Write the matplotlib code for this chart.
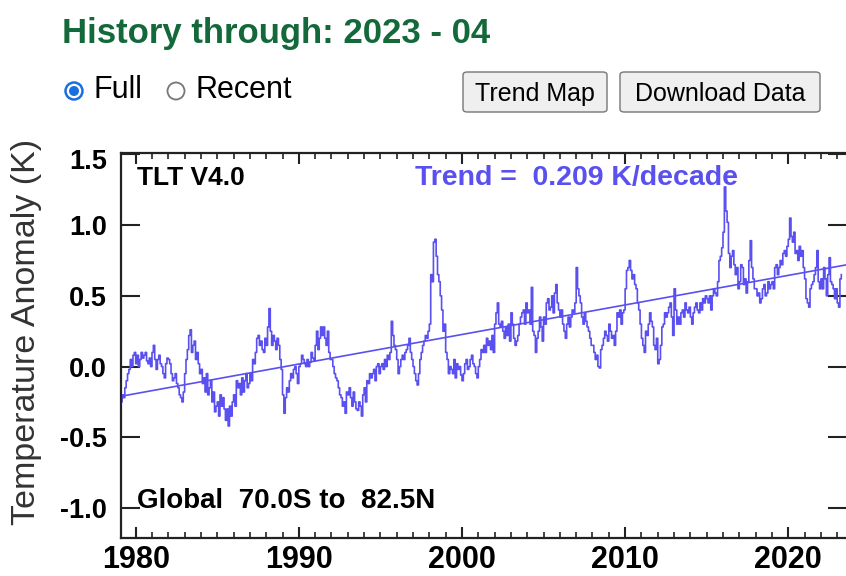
import matplotlib.pyplot as plt
import numpy as np
from matplotlib.patches import FancyBboxPatch, Ellipse
from matplotlib.transforms import ScaledTranslation

# monthly TLT anomalies (K), Jan 1979 .. Apr 2023
Y1979 = [-0.18, -0.25, -0.20, -0.22, -0.15, -0.10, -0.05, -0.02, 0.05, 0.00, 0.08, 0.10]
Y1980 = [0.02, 0.08, 0.00, 0.05, 0.10, 0.06, 0.08, 0.10, 0.04, 0.02, 0.06, 0.00]
Y1981 = [0.10, 0.15, 0.05, -0.02, 0.05, 0.08, 0.02, 0.00, -0.05, -0.08, 0.02, 0.06]
Y1982 = [0.05, 0.02, -0.05, -0.10, -0.08, -0.05, -0.12, -0.15, -0.20, -0.22, -0.25, -0.18]
Y1983 = [-0.05, 0.05, 0.12, 0.22, 0.26, 0.10, 0.15, 0.18, 0.05, 0.10, 0.02, -0.05]
Y1984 = [-0.02, -0.12, -0.08, -0.18, -0.05, -0.20, -0.15, -0.10, -0.25, -0.18, -0.32, -0.28]
Y1985 = [-0.25, -0.35, -0.20, -0.28, -0.22, -0.30, -0.38, -0.30, -0.42, -0.28, -0.35, -0.25]
Y1986 = [-0.20, -0.28, -0.10, -0.15, -0.12, -0.20, -0.08, -0.18, -0.10, -0.05, -0.15, -0.12]
Y1987 = [-0.05, -0.10, 0.05, 0.02, 0.10, 0.20, 0.22, 0.15, 0.18, 0.12, 0.10, 0.20]
Y1988 = [0.15, 0.28, 0.41, 0.25, 0.15, 0.22, 0.18, 0.12, 0.20, 0.15, 0.05, -0.02]
Y1989 = [-0.20, -0.33, -0.22, -0.15, -0.18, -0.10, -0.05, -0.08, -0.02, 0.00, -0.05, -0.12]
Y1990 = [0.00, 0.02, 0.08, 0.05, 0.02, 0.00, 0.05, 0.00, 0.03, 0.10, 0.06, 0.04]
Y1991 = [0.15, 0.25, 0.12, 0.20, 0.28, 0.22, 0.28, 0.20, 0.15, 0.25, 0.10, 0.05]
Y1992 = [0.05, 0.00, -0.05, -0.08, -0.10, -0.15, -0.20, -0.22, -0.28, -0.25, -0.33, -0.18]
Y1993 = [-0.20, -0.15, -0.22, -0.28, -0.18, -0.25, -0.30, -0.31, -0.25, -0.28, -0.35, -0.20]
Y1994 = [-0.15, -0.25, -0.10, -0.12, -0.05, -0.08, -0.05, -0.02, -0.10, 0.00, 0.02, -0.05]
Y1995 = [0.00, 0.02, -0.02, 0.05, 0.00, 0.08, 0.05, 0.10, 0.32, 0.22, 0.15, 0.12]
Y1996 = [0.05, -0.05, 0.00, 0.05, 0.08, 0.05, 0.10, 0.12, 0.15, 0.20, 0.10, 0.05]
Y1997 = [0.00, -0.05, -0.10, -0.13, -0.05, 0.05, 0.10, 0.15, 0.18, 0.22, 0.20, 0.25]
Y1998 = [0.30, 0.65, 0.60, 0.88, 0.90, 0.78, 0.65, 0.60, 0.50, 0.40, 0.25, 0.30]
Y1999 = [0.10, 0.05, -0.05, 0.00, -0.02, -0.05, 0.05, -0.08, 0.02, -0.02, 0.00, -0.06]
Y2000 = [-0.10, -0.05, 0.02, 0.05, -0.02, 0.00, 0.05, 0.08, 0.02, 0.00, -0.05, -0.08]
Y2001 = [0.00, 0.05, 0.12, 0.10, 0.15, 0.10, 0.20, 0.15, 0.18, 0.12, 0.22, 0.10]
Y2002 = [0.30, 0.38, 0.45, 0.30, 0.28, 0.32, 0.25, 0.20, 0.28, 0.22, 0.30, 0.18]
Y2003 = [0.38, 0.30, 0.20, 0.15, 0.18, 0.22, 0.30, 0.35, 0.38, 0.40, 0.30, 0.45]
Y2004 = [0.38, 0.40, 0.30, 0.56, 0.25, 0.22, 0.10, 0.20, 0.25, 0.35, 0.28, 0.18]
Y2005 = [0.35, 0.30, 0.45, 0.48, 0.40, 0.42, 0.50, 0.38, 0.52, 0.58, 0.45, 0.40]
Y2006 = [0.35, 0.40, 0.30, 0.25, 0.20, 0.30, 0.35, 0.28, 0.35, 0.40, 0.38, 0.45]
Y2007 = [0.70, 0.55, 0.50, 0.45, 0.35, 0.30, 0.38, 0.32, 0.28, 0.25, 0.20, 0.15]
Y2008 = [0.15, 0.10, 0.05, 0.08, 0.00, -0.01, 0.12, 0.15, 0.20, 0.25, 0.22, 0.18]
Y2009 = [0.30, 0.25, 0.20, 0.22, 0.15, 0.25, 0.38, 0.35, 0.40, 0.30, 0.38, 0.40]
Y2010 = [0.55, 0.68, 0.70, 0.75, 0.68, 0.62, 0.65, 0.58, 0.55, 0.45, 0.40, 0.30]
Y2011 = [0.20, 0.15, 0.10, 0.25, 0.22, 0.30, 0.38, 0.32, 0.28, 0.15, 0.12, 0.20]
Y2012 = [0.02, 0.05, 0.15, 0.28, 0.30, 0.38, 0.35, 0.38, 0.42, 0.45, 0.35, 0.22]
Y2013 = [0.55, 0.40, 0.30, 0.35, 0.30, 0.38, 0.40, 0.35, 0.45, 0.40, 0.38, 0.42]
Y2014 = [0.35, 0.30, 0.38, 0.42, 0.45, 0.40, 0.38, 0.45, 0.40, 0.48, 0.45, 0.50]
Y2015 = [0.48, 0.45, 0.50, 0.40, 0.50, 0.55, 0.52, 0.50, 0.60, 0.75, 0.78, 0.84]
Y2016 = [0.95, 1.27, 1.10, 1.02, 0.80, 0.70, 0.78, 0.82, 0.72, 0.65, 0.70, 0.55]
Y2017 = [0.60, 0.72, 0.70, 0.58, 0.62, 0.52, 0.60, 0.75, 0.89, 0.70, 0.62, 0.55]
Y2018 = [0.55, 0.50, 0.52, 0.45, 0.48, 0.55, 0.58, 0.50, 0.52, 0.60, 0.55, 0.58]
Y2019 = [0.60, 0.55, 0.70, 0.72, 0.65, 0.70, 0.75, 0.72, 0.80, 0.82, 0.78, 0.85]
Y2020 = [0.90, 1.05, 0.92, 0.88, 0.95, 0.80, 0.82, 0.75, 0.85, 0.78, 0.82, 0.70]
Y2021 = [0.62, 0.48, 0.45, 0.42, 0.55, 0.58, 0.60, 0.65, 0.70, 0.82, 0.60, 0.55]
Y2022 = [0.62, 0.55, 0.70, 0.62, 0.50, 0.65, 0.77, 0.60, 0.58, 0.55, 0.48, 0.55]
Y2023 = [0.45, 0.42, 0.62, 0.65]

MONTHLY = [Y1979, Y1980, Y1981, Y1982, Y1983, Y1984, Y1985, Y1986, Y1987, Y1988,
           Y1989, Y1990, Y1991, Y1992, Y1993, Y1994, Y1995, Y1996, Y1997, Y1998,
           Y1999, Y2000, Y2001, Y2002, Y2003, Y2004, Y2005, Y2006, Y2007, Y2008,
           Y2009, Y2010, Y2011, Y2012, Y2013, Y2014, Y2015, Y2016, Y2017, Y2018,
           Y2019, Y2020, Y2021, Y2022, Y2023]
START_YEAR = 1979
TREND_K_PER_DECADE = 0.209
TREND_START = -0.21      # trend line value at the left edge (1979.1)

YTICKS = [-1.0, -0.5, 0.0, 0.5, 1.0, 1.5]
XTICKS = [1980, 1990, 2000, 2010, 2020]

BLUE = "#5a50f0"
GREEN = "#14693a"
RADIO = "#1a6fe0"
FONT = "Liberation Sans"

W, H = 846, 576


def fx(px):
    return px / W


def fy(py):
    return 1 - py / H


def radio(cx, cy, checked):
    # circles sized in pixels so they stay round on a non-square figure
    r = 8.5
    col = RADIO if checked else "#767676"
    fig.patches.append(Ellipse((fx(cx), fy(cy)), 2 * r / W, 2 * r / H,
                               transform=fig.transFigure, facecolor="white",
                               edgecolor=col, lw=1.8 if checked else 1.3))
    if checked:
        fig.patches.append(Ellipse((fx(cx), fy(cy)), 10 / W, 10 / H,
                                   transform=fig.transFigure, facecolor=col,
                                   edgecolor="none"))


anom = np.concatenate([np.array(y, dtype=float) for y in MONTHLY])
t = START_YEAR + np.arange(len(anom)) / 12.0

fig = plt.figure(figsize=(W / 100, H / 100), dpi=100)
fig.patch.set_facecolor("white")

# page header, radio buttons and buttons
fig.text(fx(62), fy(33), "History through: 2023 - 04", color=GREEN, fontsize=25,
         fontweight="bold", family=FONT, va="center", ha="left")

radio(74, 91, True)
fig.text(fx(93), fy(90), "Full", fontsize=22, family=FONT, va="center", ha="left")
radio(176, 91, False)
fig.text(fx(195), fy(90), "Recent", fontsize=22, family=FONT, va="center", ha="left")

for x0, x1, label in [(463, 607, "Trend Map"), (620, 820, "Download Data")]:
    box = FancyBboxPatch((fx(x0), fy(112)), fx(x1 - x0), (112 - 72) / H,
                         boxstyle="round,pad=0,rounding_size=0.005",
                         transform=fig.transFigure, facecolor="#efefef",
                         edgecolor="#767676", lw=1.0)
    fig.patches.append(box)
    fig.text(fx((x0 + x1) / 2), fy(94), label, fontsize=18, family=FONT,
             va="center", ha="center")

# plot area
ax = fig.add_axes([fx(121), fy(537.7), fx(847 - 121), (537.7 - 153) / H])
ax.step(t, anom, where="post", color=BLUE, lw=1.2)

xl = np.array([1979.1, 2023.6])
ax.plot(xl, TREND_START + TREND_K_PER_DECADE / 10 * (xl - xl[0]), color=BLUE, lw=1.2)

ax.set_xlim(xl[0], xl[1])
ax.set_ylim(-1.21, 1.51)
ax.set_xticks(XTICKS)
ax.set_xticks(np.arange(1980, 2024), minor=True)
ax.set_yticks(YTICKS)
ax.set_yticklabels([f"{v:.1f}" for v in YTICKS])
ax.tick_params(axis="both", which="both", direction="in", top=True, right=True,
               color="#222222")
ax.tick_params(axis="x", which="major", length=8, width=1.5, pad=5, labelsize=22)
ax.tick_params(axis="x", which="minor", length=4, width=1.2)
ax.tick_params(axis="y", which="major", length=14, width=1.5, pad=10, labelsize=19.5)
for lab in ax.get_xticklabels() + ax.get_yticklabels():
    lab.set_fontweight("bold")
    lab.set_family(FONT)
# top label sits a little lower, clear of the frame
top = ax.get_yticklabels()[-1]
top.set_transform(top.get_transform() + ScaledTranslation(0, -5 / 100, fig.dpi_scale_trans))
for s in ax.spines.values():
    s.set_color("#222222")
    s.set_linewidth(1.6)

fig.text(fx(27), fy(332), "Temperature Anomaly (K)", rotation=90, fontsize=24.5,
         family=FONT, color="#333333", va="center", ha="center")

ax.text(0.022, 0.935, "TLT V4.0", transform=ax.transAxes, fontsize=19,
        fontweight="bold", family=FONT, va="center", ha="left")
ax.text(0.405, 0.935, "Trend =  0.209 K/decade", transform=ax.transAxes,
        fontsize=20.5, fontweight="bold", family=FONT, color=BLUE,
        va="center", ha="left")
ax.text(0.022, 0.095, "Global  70.0S to  82.5N", transform=ax.transAxes,
        fontsize=20, fontweight="bold", family=FONT, va="center", ha="left")

fig.savefig("out.png", dpi=100)
